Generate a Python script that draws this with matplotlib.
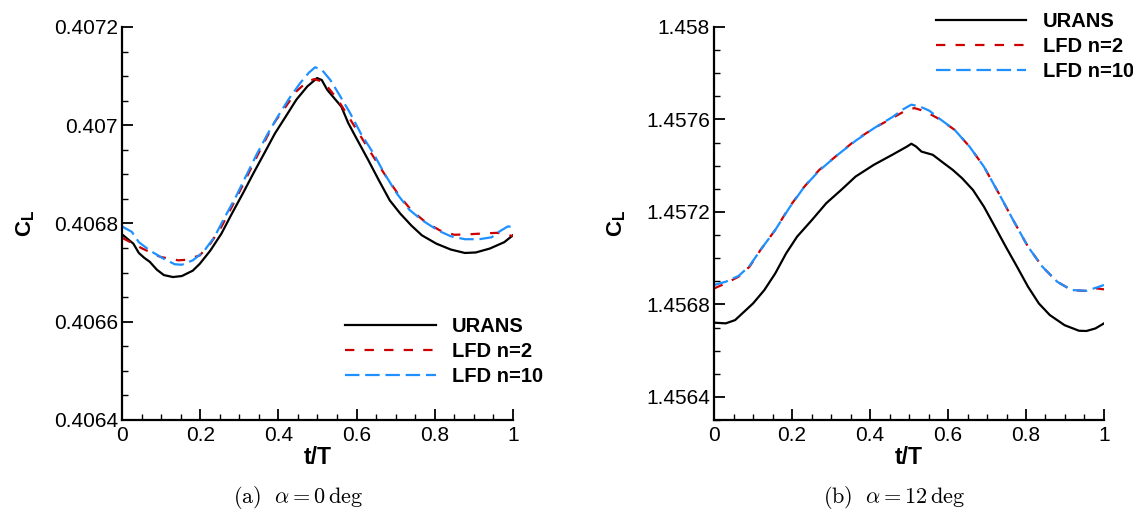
import matplotlib
matplotlib.use('Agg')
import matplotlib.pyplot as plt
from matplotlib.ticker import MultipleLocator

plt.rcParams['font.family'] = ['Liberation Sans', 'DejaVu Sans']
plt.rcParams['mathtext.fontset'] = 'custom'
plt.rcParams['mathtext.rm'] = 'Liberation Sans'
plt.rcParams['mathtext.bf'] = 'Liberation Sans:bold'

# ---- (a) alpha = 0 deg ----
t_urans_a = [0, 0.012, 0.029, 0.043, 0.057, 0.071, 0.089, 0.107, 0.130, 0.153, 0.181, 0.199,
             0.226, 0.254, 0.281, 0.309, 0.336, 0.364, 0.391, 0.419, 0.446, 0.474, 0.499,
             0.511, 0.525, 0.543, 0.561, 0.579, 0.602, 0.630, 0.657, 0.685, 0.712, 0.740,
             0.767, 0.804, 0.841, 0.877, 0.905, 0.941, 0.978, 1.0]
cl_urans_a = [0.406778, 0.406770, 0.406759, 0.406740, 0.406730, 0.406722, 0.406706, 0.406695,
              0.406691, 0.406693, 0.406704, 0.406718, 0.406745, 0.406779, 0.406820, 0.406861,
              0.406902, 0.406943, 0.406983, 0.407018, 0.407052, 0.407079, 0.407096, 0.407092,
              0.407072, 0.407055, 0.407038, 0.407004, 0.406970, 0.406929, 0.406888, 0.406847,
              0.406820, 0.406796, 0.406776, 0.406759, 0.406747, 0.406740, 0.406741, 0.406749,
              0.406762, 0.406776]

t_lfd2_a = [0, 0.052, 0.098, 0.144, 0.162, 0.199, 0.226, 0.254, 0.281, 0.309, 0.336, 0.364,
            0.391, 0.419, 0.446, 0.474, 0.492, 0.511, 0.529, 0.552, 0.579, 0.611, 0.643,
            0.676, 0.708, 0.740, 0.776, 0.813, 0.850, 0.886, 0.932, 0.960, 0.978, 1.0]
cl_lfd2_a = [0.406771, 0.406749, 0.406732, 0.406725, 0.406726, 0.406735, 0.406759, 0.406793,
             0.406834, 0.406878, 0.406922, 0.406966, 0.407007, 0.407038, 0.407069, 0.407089,
             0.407094, 0.407089, 0.407075, 0.407052, 0.407018, 0.406977, 0.406936, 0.406895,
             0.406858, 0.406827, 0.406803, 0.406786, 0.406777, 0.406778, 0.406780, 0.406781,
             0.406779, 0.406774]

t_lfd10_a = [0, 0.025, 0.043, 0.071, 0.107, 0.135, 0.153, 0.181, 0.208, 0.236, 0.263, 0.291,
             0.318, 0.346, 0.373, 0.401, 0.428, 0.456, 0.478, 0.494, 0.511, 0.533, 0.556,
             0.584, 0.611, 0.643, 0.671, 0.703, 0.735, 0.767, 0.808, 0.841, 0.877, 0.914,
             0.946, 0.964, 0.987, 1.0]
cl_lfd10_a = [0.406794, 0.406783, 0.406762, 0.406745, 0.406728, 0.406717, 0.406716, 0.406725,
              0.406742, 0.406772, 0.406813, 0.406854, 0.406898, 0.406943, 0.406983, 0.407021,
              0.407055, 0.407086, 0.407107, 0.407118, 0.407113, 0.407092, 0.407062, 0.407024,
              0.406983, 0.406943, 0.406902, 0.406861, 0.406828, 0.406807, 0.406786, 0.406774,
              0.406768, 0.406768, 0.406772, 0.406783, 0.406794, 0.406793]

# ---- (b) alpha = 12 deg ----
t_urans_b = [0, 0.030, 0.054, 0.077, 0.100, 0.129, 0.157, 0.185, 0.213, 0.251, 0.288, 0.326,
             0.363, 0.410, 0.457, 0.495, 0.506, 0.518, 0.532, 0.561, 0.589, 0.612, 0.636,
             0.664, 0.692, 0.720, 0.748, 0.777, 0.805, 0.833, 0.861, 0.899, 0.936, 0.955,
             0.978, 1.0]
cl_urans_b = [1.456721, 1.456718, 1.456732, 1.456768, 1.456804, 1.456862, 1.456934, 1.457021,
              1.457093, 1.457165, 1.457238, 1.457295, 1.457353, 1.457404, 1.457447, 1.457483,
              1.457495, 1.457483, 1.457461, 1.457447, 1.457411, 1.457382, 1.457346, 1.457295,
              1.457223, 1.457137, 1.457050, 1.456963, 1.456877, 1.456804, 1.456754, 1.456710,
              1.456686, 1.456685, 1.456696, 1.456718]

t_lfd2_b = [0, 0.030, 0.063, 0.091, 0.119, 0.157, 0.194, 0.232, 0.270, 0.317, 0.364, 0.410,
            0.457, 0.495, 0.514, 0.542, 0.580, 0.617, 0.655, 0.692, 0.730, 0.767, 0.805,
            0.842, 0.880, 0.917, 0.955, 0.983, 1.0]
cl_lfd2_b = [1.456869, 1.456891, 1.456920, 1.456963, 1.457035, 1.457122, 1.457223, 1.457310,
             1.457382, 1.457447, 1.457512, 1.457562, 1.457606, 1.457642, 1.457649, 1.457635,
             1.457599, 1.457555, 1.457483, 1.457396, 1.457281, 1.457165, 1.457050, 1.456963,
             1.456898, 1.456862, 1.456858, 1.456869, 1.456865]

t_lfd10_b = [0, 0.030, 0.063, 0.091, 0.119, 0.157, 0.194, 0.232, 0.270, 0.317, 0.364, 0.410,
             0.457, 0.486, 0.506, 0.528, 0.552, 0.580, 0.617, 0.655, 0.692, 0.730, 0.767,
             0.805, 0.842, 0.880, 0.917, 0.955, 0.983, 1.0]
cl_lfd10_b = [1.456884, 1.456898, 1.456923, 1.456966, 1.457035, 1.457122, 1.457220, 1.457310,
              1.457379, 1.457447, 1.457509, 1.457562, 1.457610, 1.457645, 1.457664, 1.457656,
              1.457638, 1.457601, 1.457555, 1.457483, 1.457396, 1.457281, 1.457165, 1.457050,
              1.456963, 1.456898, 1.456862, 1.456859, 1.456874, 1.456884]

labels = ['URANS', 'LFD n=2', 'LFD n=10']
captions = [r'$\mathrm{(a)}\ \ \alpha = 0\,\mathrm{deg}$', r'$\mathrm{(b)}\ \ \alpha = 12\,\mathrm{deg}$']

fig = plt.figure(figsize=(11.33, 5.14), dpi=100)
ax1 = fig.add_axes([0.1077, 0.1829, 0.345, 0.7646])
ax2 = fig.add_axes([0.6302, 0.1829, 0.3442, 0.7646])


def style(ax, ylim, ymaj, ymin):
    ax.set_xlim(0, 1)
    ax.set_ylim(*ylim)
    ax.xaxis.set_major_locator(MultipleLocator(0.2))
    ax.xaxis.set_minor_locator(MultipleLocator(0.05))
    ax.yaxis.set_major_locator(MultipleLocator(ymaj))
    ax.yaxis.set_minor_locator(MultipleLocator(ymin))
    ax.xaxis.set_major_formatter(plt.FuncFormatter(lambda v, p: '%g' % round(v, 6)))
    ax.yaxis.set_major_formatter(plt.FuncFormatter(lambda v, p: '%g' % round(v, 7)))
    ax.spines['top'].set_visible(False)
    ax.spines['right'].set_visible(False)
    ax.spines['left'].set_linewidth(1.6)
    ax.spines['bottom'].set_linewidth(1.6)
    ax.tick_params(which='major', direction='in', length=8, width=1.3, labelsize=15)
    ax.tick_params(axis='y', which='major', pad=3)
    ax.tick_params(axis='x', which='major', pad=4)
    ax.tick_params(which='minor', direction='in', length=4.5, width=1.0)
    ax.set_xlabel('t/T', fontsize=16.5, fontweight='bold', labelpad=1)
    ax.set_ylabel(r'$\mathbf{C}_{\mathbf{L}}$', fontsize=16)


for ax, data in [(ax1, [(t_urans_a, cl_urans_a), (t_lfd2_a, cl_lfd2_a), (t_lfd10_a, cl_lfd10_a)]),
                 (ax2, [(t_urans_b, cl_urans_b), (t_lfd2_b, cl_lfd2_b), (t_lfd10_b, cl_lfd10_b)])]:
    ax.plot(data[0][0], data[0][1], color='black', lw=1.6, label=labels[0])
    ax.plot(data[1][0], data[1][1], color='#cc0000', lw=1.6, dashes=(4.2, 4.6), label=labels[1])
    ax.plot(data[2][0], data[2][1], color='#1e90ff', lw=1.6, dashes=(6.5, 2.6), label=labels[2])

style(ax1, (0.4064, 0.4072), 0.0002, 0.00005)
style(ax2, (1.4563, 1.458), 0.0004, 0.0001)
ax1.yaxis.set_label_coords(-0.218, 0.5)
ax2.yaxis.set_label_coords(-0.22, 0.5)

leg_kw = dict(frameon=False, prop={'weight': 'bold', 'size': 14.5}, handlelength=4.5,
              handletextpad=0.8, labelspacing=0.3, borderpad=0, borderaxespad=0)
ax1.legend(loc='upper left', bbox_to_anchor=(0.3045, 0.383), bbox_transform=fig.transFigure, **leg_kw)
ax2.legend(loc='upper left', bbox_to_anchor=(0.826, 0.977), bbox_transform=fig.transFigure, **leg_kw)

fig.text(0.263, 0.032, captions[0], ha='center', va='center', fontsize=16, math_fontfamily='cm')
fig.text(0.789, 0.032, captions[1], ha='center', va='center', fontsize=16, math_fontfamily='cm')

fig.savefig('out.png', dpi=100)
